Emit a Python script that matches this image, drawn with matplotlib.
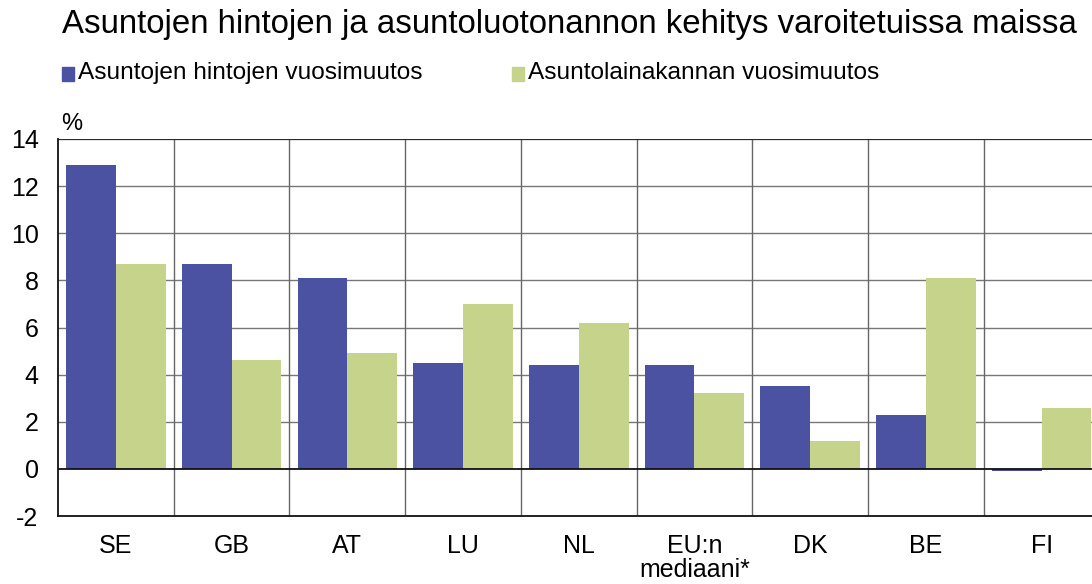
import matplotlib
matplotlib.use("Agg")
import matplotlib.pyplot as plt
import numpy as np

plt.rcParams['font.family'] = ['Liberation Sans', 'DejaVu Sans']

categories = ["SE", "GB", "AT", "LU", "NL", "EU:n\nmediaani*", "DK", "BE", "FI"]
house_prices = [12.9, 8.7, 8.1, 4.5, 4.4, 4.4, 3.5, 2.3, -0.1]
mortgage_stock = [8.7, 4.6, 4.9, 7.0, 6.2, 3.2, 1.2, 8.1, 2.6]
series_names = ["Asuntojen hintojen vuosimuutos", "Asuntolainakannan vuosimuutos"]
yticks = [-2, 0, 2, 4, 6, 8, 10, 12, 14]

blue = "#4B52A2"
green = "#C6D38A"

fig = plt.figure(figsize=(10.92, 5.84), dpi=100)
ax = fig.add_axes([58/1092, 1-516/584, (1099.5-58)/1092, (516-139)/584])

x = np.arange(len(categories))
w = 0.43
ax.bar(x - w/2, house_prices, w, color=blue, zorder=3)
ax.bar(x + w/2, mortgage_stock, w, color=green, zorder=3)

ax.set_xlim(-0.5, len(categories) - 0.5)
ax.set_ylim(-2, 14)
ax.set_yticks(yticks)
ax.set_yticklabels([str(t) for t in yticks], fontsize=18)
ax.set_xticks(x)
ax.set_xticklabels(categories, fontsize=18, linespacing=1.02)
ax.tick_params(axis='y', length=0, pad=14)
ax.tick_params(axis='x', length=0, pad=13)

for yv in yticks[2:]:
    ax.axhline(yv, color="#777777", lw=1.0, zorder=1)
for xv in np.arange(0.5, len(categories) - 0.5, 1):
    ax.axvline(xv, color="#666666", lw=1.0, zorder=1)
ax.axhline(0, color="#111111", lw=1.3, zorder=4)
ax.axhline(14, color="#222222", lw=1.3, zorder=4)

for s in ['top', 'right']:
    ax.spines[s].set_visible(False)
for s in ['left', 'bottom']:
    ax.spines[s].set_color("#111111")
    ax.spines[s].set_linewidth(1.3)

fig.text(62/1092, 1-24/584, "Asuntojen hintojen ja asuntoluotonannon kehitys varoitetuissa maissa",
         fontsize=23.8, va='center', ha='left')

# legend
fig.patches.append(plt.Rectangle((62/1092, 1-81/584), 12/1092, 14/584, transform=fig.transFigure,
                                 color=blue, figure=fig))
fig.text(78/1092, 1-73/584, series_names[0], fontsize=17.6, va='center', ha='left')
fig.patches.append(plt.Rectangle((512/1092, 1-81/584), 12/1092, 14/584, transform=fig.transFigure,
                                 color=green, figure=fig))
fig.text(528/1092, 1-73/584, series_names[1], fontsize=17.6, va='center', ha='left')

fig.text(61/1092, 1-124/584, "%", fontsize=17, va='center', ha='left')

fig.savefig("out.png", dpi=100)
